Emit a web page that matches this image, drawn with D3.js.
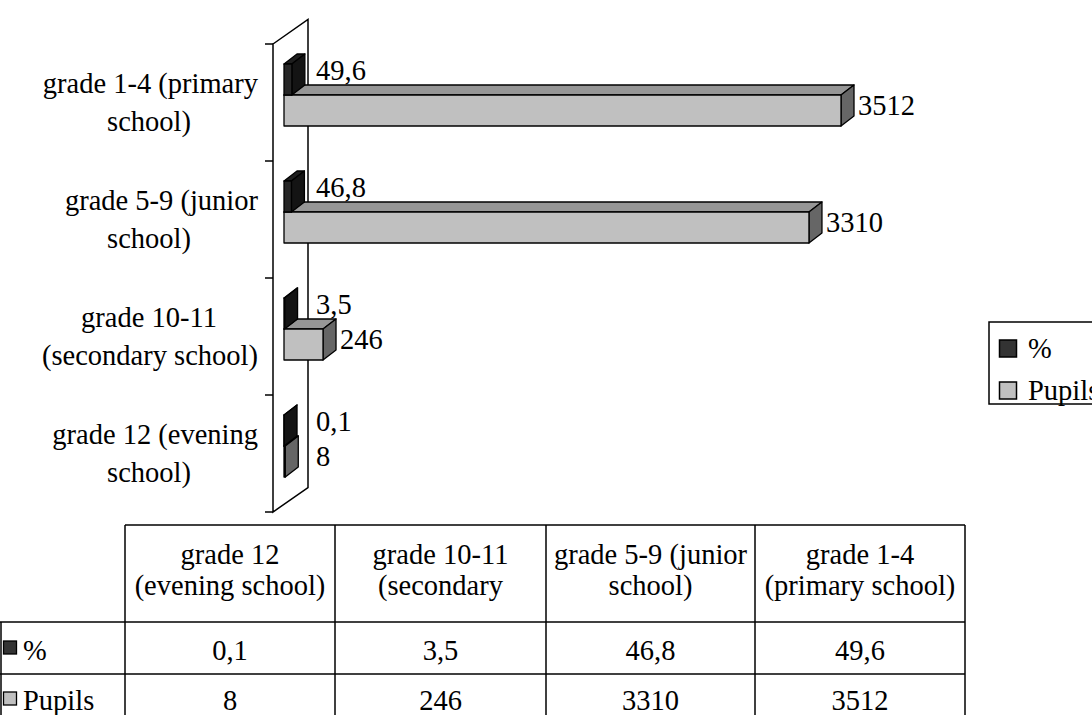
<!DOCTYPE html>
<html>
<head>
<meta charset="utf-8">
<script src="https://cdn.jsdelivr.net/npm/d3@7"></script>
<style>
  html, body { margin: 0; padding: 0; background: #fff; }
  svg { display: block; }
  text { font-family: "Liberation Serif", "Times New Roman", serif; font-size: 28.5px; fill: #000; }
</style>
</head>
<body>
<svg id="chart" width="1092" height="715"></svg>
<script>
// Pupils by school level: share (%) and head count
const categories = [
  "grade 12 (evening school)",
  "grade 10-11 (secondary school)",
  "grade 5-9 (junior school)",
  "grade 1-4 (primary school)"
];
const percentValues = [0.1, 3.5, 46.8, 49.6];
const pupilValues = [8, 246, 3310, 3512];
const seriesNames = ["%", "Pupils"];
const valueDomain = [0, 4000];

const fmt = d3.formatLocale({ decimal: ",", thousands: "", grouping: [3], currency: ["", ""] }).format("~");

const svg = d3.select("#chart");

// ----- 3D frame geometry -----
const wallX = 273;               // front edge of the side wall
const wallDepth = { dx: 35, dy: -24.5 };
const barInset = { dx: 11, dy: -7.5 };  // bars sit a little into the depth
const barDepth = { dx: 13, dy: -10 };
const barThick = 31;

const y = d3.scaleBand()
  .domain(categories.slice().reverse())
  .range([44, 512])
  .paddingInner(0).paddingOuter(0);

const x = d3.scaleLinear().domain(valueDomain).range([0, 634.4]);

const palette = {
  "%":      { front: "#262626", top: "#1e1e1e", side: "#141414", swatch: "#333333" },
  "Pupils": { front: "#c0c0c0", top: "#969696", side: "#666666", swatch: "#c0c0c0" }
};

// side wall (white panel with outline)
const yTop = y.range()[0], yBot = y.range()[1];
const wall = svg.append("g");
wall.append("path")
  .attr("d", `M${wallX},${yTop} L${wallX + wallDepth.dx},${yTop + wallDepth.dy} L${wallX + wallDepth.dx},${yBot + wallDepth.dy} L${wallX},${yBot} Z`)
  .attr("fill", "#fff").attr("stroke", "#000").attr("stroke-width", 1.5).attr("stroke-linejoin", "miter");

// category ticks on the wall edge
const tickYs = categories.map(c => y(c)).concat([yBot]);
wall.selectAll("line.tick").data(tickYs).join("line")
  .attr("x1", wallX - 8).attr("x2", wallX)
  .attr("y1", d => d).attr("y2", d => d)
  .attr("stroke", "#000").attr("stroke-width", 1.5);

// category labels, wrapped
function wrapWords(text, maxW, measure) {
  const words = text.split(" ");
  const lines = [];
  let cur = "";
  words.forEach(w => {
    const t = cur ? cur + " " + w : w;
    if (cur && measure(t) > maxW) { lines.push(cur); cur = w; } else { cur = t; }
  });
  if (cur) lines.push(cur);
  return lines;
}
const measurer = svg.append("text").attr("visibility", "hidden");
const measure = s => { measurer.text(s); return measurer.node().getComputedTextLength(); };

const catLabels = svg.append("g");
categories.forEach(c => {
  const cy = y(c) + y.bandwidth() / 2;
  const lines = wrapWords(c, 224, measure);
  lines.forEach((ln, i) => {
    const w = measure(ln);
    const wide = w > 180;
    catLabels.append("text")
      .attr("x", wide ? 258 : 149)
      .attr("y", cy - 10 + i * 38)
      .attr("text-anchor", wide ? "end" : "middle")
      .text(ln);
  });
});

// ----- bars -----
const bars = categories.map((c, i) => ({
  cat: c,
  items: [
    { series: "Pupils", value: pupilValues[i], slot: 0 },
    { series: "%", value: percentValues[i], slot: -1 }
  ]
}));

const barLayer = svg.append("g");
const labelLayer = svg.append("g");
bars.forEach(b => {
  const cy = y(b.cat) + y.bandwidth() / 2 + barInset.dy;
  b.items.forEach(it => {
    const x0 = wallX + barInset.dx;
    const w = x(it.value);
    const t = cy + it.slot * barThick;
    const h = barThick;
    const col = palette[it.series];
    const g = barLayer.append("g").attr("stroke", "#000").attr("stroke-width", 1.3).attr("stroke-linejoin", "round");
    // top face
    g.append("path")
      .attr("d", `M${x0},${t} L${x0 + w},${t} L${x0 + w + barDepth.dx},${t + barDepth.dy} L${x0 + barDepth.dx},${t + barDepth.dy} Z`)
      .attr("fill", col.top);
    // end face
    g.append("path")
      .attr("d", `M${x0 + w},${t} L${x0 + w + barDepth.dx},${t + barDepth.dy} L${x0 + w + barDepth.dx},${t + h + barDepth.dy} L${x0 + w},${t + h} Z`)
      .attr("fill", col.side);
    // front face
    g.append("rect")
      .attr("x", x0).attr("y", t).attr("width", w).attr("height", h)
      .attr("fill", col.front);
    // value label
    const backRight = x0 + w + barDepth.dx;
    labelLayer.append("text")
      .attr("x", Math.max(backRight + 4, 316))
      .attr("y", t + h / 2 + (it.series === "%" ? 0.5 : 4))
      .text(fmt(it.value));
  });
});

// ----- legend -----
const legend = svg.append("g");
legend.append("rect")
  .attr("x", 989).attr("y", 322).attr("width", 140).attr("height", 82)
  .attr("fill", "#fff").attr("stroke", "#000").attr("stroke-width", 1.5);
seriesNames.forEach((s, i) => {
  const ly = 340 + i * 42;
  legend.append("rect")
    .attr("x", 999.5).attr("y", ly).attr("width", 17).attr("height", 17)
    .attr("fill", palette[s].swatch).attr("stroke", "#000").attr("stroke-width", 1.5);
  legend.append("text").attr("x", 1028).attr("y", ly + 18).text(s);
});

// ----- data table -----
const table = svg.append("g");
const colEdges = [125, 335, 546, 755, 965];
const tTop = 525, hdrBot = 622, row1Bot = 674, tBottom = 716;
const lineAttrs = sel => sel.attr("stroke", "#000").attr("stroke-width", 1.5);

lineAttrs(table.append("line").attr("x1", colEdges[0]).attr("x2", colEdges[4]).attr("y1", tTop).attr("y2", tTop));
[hdrBot, row1Bot].forEach(yy =>
  lineAttrs(table.append("line").attr("x1", 0).attr("x2", colEdges[4]).attr("y1", yy).attr("y2", yy)));
colEdges.forEach(xx =>
  lineAttrs(table.append("line").attr("x1", xx).attr("x2", xx).attr("y1", tTop).attr("y2", tBottom)));
lineAttrs(table.append("line").attr("x1", 1).attr("x2", 1).attr("y1", hdrBot).attr("y2", tBottom));

categories.forEach((c, i) => {
  const cx = (colEdges[i] + colEdges[i + 1]) / 2;
  const lines = wrapWords(c, 197, measure).slice(0, 2);
  lines.forEach((ln, k) => {
    table.append("text").attr("x", cx).attr("y", 564 + k * 31).attr("text-anchor", "middle").text(ln);
  });
  table.append("text").attr("x", cx).attr("y", 660).attr("text-anchor", "middle").text(fmt(percentValues[i]));
  table.append("text").attr("x", cx).attr("y", 710).attr("text-anchor", "middle").text(fmt(pupilValues[i]));
});

seriesNames.forEach((s, i) => {
  const ry = 641 + i * 51;
  table.append("rect")
    .attr("x", 3.5).attr("y", ry).attr("width", 13).attr("height", 13)
    .attr("fill", palette[s].swatch).attr("stroke", "#000").attr("stroke-width", 1.3);
  table.append("text").attr("x", 23).attr("y", 660 + i * 50).text(s);
});

measurer.remove();
</script>
</body>
</html>
